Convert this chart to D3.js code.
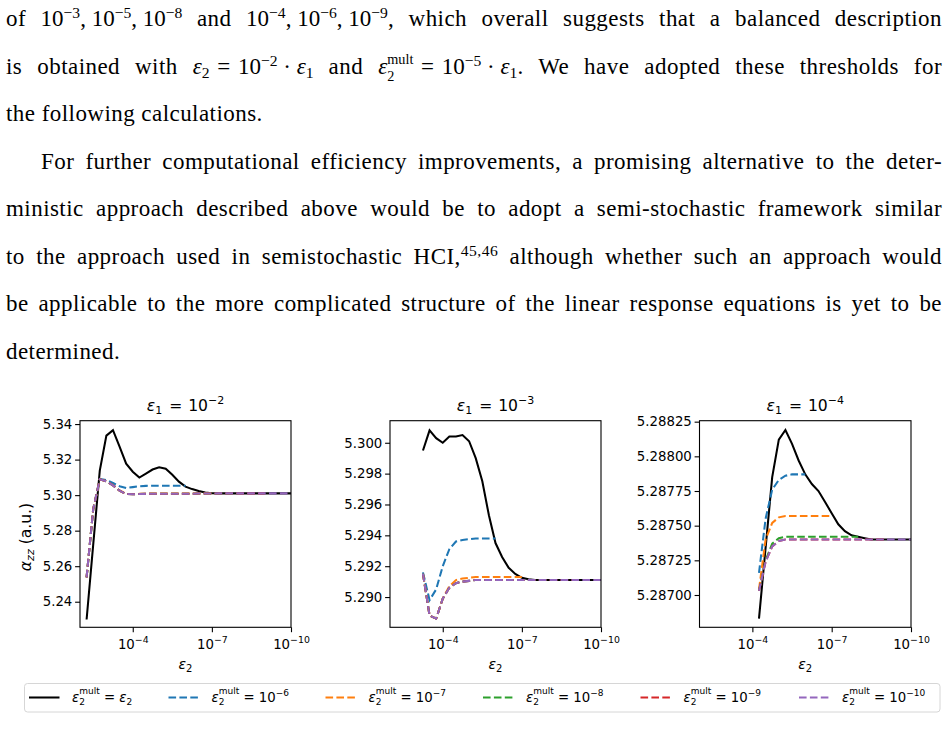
<!DOCTYPE html>
<html>
<head>
<meta charset="utf-8">
<script src="https://cdn.jsdelivr.net/npm/d3@7"></script>
<style>
  body { margin: 0; background: #fff; width: 948px; height: 746px; overflow: hidden; position: relative; }
  .ln {
    position: absolute; left: 6px; width: 936px;
    font-family: "Liberation Serif", serif; font-size: 23px; letter-spacing: 0.45px; line-height: 40px;
    white-space: nowrap; text-align: justify; text-align-last: justify; color: #000;
  }
  .ln.last { text-align: left; text-align-last: left; }
  .m { display: inline-block; letter-spacing: 0; }
  .sp { font-size: 0.68em; position: relative; top: -0.5em; }
  .sb { font-size: 0.68em; position: relative; top: 0.28em; }
  .ss { display: inline-block; font-size: 0.62em; line-height: 1.2em; vertical-align: -0.5em; text-align: left; }
  svg { position: absolute; left: 0; top: 0; }
</style>
</head>
<body>
<div class="ln" style="top:-1px">of <span class="m">10<span class="sp">−3</span>,&#8197;10<span class="sp">−5</span>,&#8197;10<span class="sp">−8</span></span> and <span class="m">10<span class="sp">−4</span>,&#8197;10<span class="sp">−6</span>,&#8197;10<span class="sp">−9</span></span>, which overall suggests that a balanced description</div>
<div class="ln" style="top:46.5px">is obtained with <span class="m"><i>ε</i><span class="sb">2</span>&#8196;=&#8196;10<span class="sp">−2</span>&#8197;·&#8197;<i>ε</i><span class="sb">1</span></span> and <span class="m"><i>ε</i><span class="ss">mult<br>2</span>&#8196;=&#8196;10<span class="sp">−5</span>&#8197;·&#8197;<i>ε</i><span class="sb">1</span></span>. We have adopted these thresholds for</div>
<div class="ln last" style="top:94px">the following calculations.</div>
<div class="ln" style="top:141.5px; left:41px; width:901px">For further computational efficiency improvements, a promising alternative to the deter-</div>
<div class="ln" style="top:189px">ministic approach described above would be to adopt a semi-stochastic framework similar</div>
<div class="ln" style="top:236.5px">to the approach used in semistochastic HCI,<span class="sp">45,46</span> although whether such an approach would</div>
<div class="ln" style="top:284px">be applicable to the more complicated structure of the linear response equations is yet to be</div>
<div class="ln last" style="top:331.5px">determined.</div>

<svg id="chart" width="948" height="746"></svg>

<script>
// eps2 grid, as log10 exponents, one list per panel
const eps2Exp1 = [-2.25, -2.5, -2.75, -3, -3.25, -3.5, -3.75, -4, -4.25, -4.5, -4.75, -5, -5.25, -5.5, -5.75, -6,
  -6.25, -6.5, -6.75, -7, -7.25, -7.5, -7.75, -8, -8.25, -8.5, -8.75, -9, -9.25, -9.5, -9.75, -10]
const eps2Exp2 = [-3.25, -3.5, -3.75, -4, -4.25, -4.5, -4.75, -5, -5.25, -5.5, -5.75, -6,
  -6.25, -6.5, -6.75, -7, -7.25, -7.5, -7.75, -8, -8.25, -8.5, -8.75, -9, -9.25, -9.5, -9.75, -10]
const eps2Exp3 = [-4.25, -4.5, -4.75, -5, -5.25, -5.5, -5.75, -6,
  -6.25, -6.5, -6.75, -7, -7.25, -7.5, -7.75, -8, -8.25, -8.5, -8.75, -9, -9.25, -9.5, -9.75, -10]

// eps1 = 1e-2
const black1 = [5.2300, 5.2720, 5.3138, 5.3335, 5.3366, 5.3273, 5.3177, 5.3132, 5.3099, 5.3121, 5.3144, 5.3157,
  5.3149, 5.3115, 5.3076, 5.3048, 5.3034, 5.3023, 5.3015, 5.3011, 5.3010, 5.3010, 5.3010, 5.3010,
  5.3010, 5.3010, 5.3010, 5.3010, 5.3010, 5.3010, 5.3010, 5.3010]
const blue1 = [5.2537, 5.2920, 5.3091, 5.3085, 5.3068, 5.3050, 5.3040, 5.3045, 5.3050, 5.3052, 5.3053, 5.3053,
  5.3053, 5.3053, 5.3053, 5.3053]
const orange1 = [5.2537, 5.2920, 5.3089, 5.3078, 5.3056, 5.3026, 5.3007, 5.3006, 5.3007, 5.3008, 5.3009, 5.3009,
  5.3009, 5.3009, 5.3009, 5.3009, 5.3009, 5.3009, 5.3010, 5.3010]
const green1 = [5.2537, 5.2920, 5.3089, 5.3078, 5.3055, 5.3025, 5.3006, 5.3005, 5.3006, 5.3007, 5.3008, 5.3008,
  5.3008, 5.3008, 5.3008, 5.3008, 5.3008, 5.3009, 5.3009, 5.3009, 5.3010, 5.3010, 5.3010, 5.3010]
const red1 = [5.2537, 5.2920, 5.3089, 5.3078, 5.3055, 5.3025, 5.3006, 5.3005, 5.3006, 5.3007, 5.3008, 5.3008,
  5.3008, 5.3008, 5.3008, 5.3008, 5.3008, 5.3009, 5.3009, 5.3009, 5.3010, 5.3010, 5.3010, 5.3010,
  5.3010, 5.3010, 5.3010, 5.3010]
const purple1 = [5.2537, 5.2920, 5.3089, 5.3078, 5.3055, 5.3025, 5.3006, 5.3005, 5.3006, 5.3007, 5.3008, 5.3008,
  5.3008, 5.3008, 5.3008, 5.3008, 5.3008, 5.3009, 5.3009, 5.3009, 5.3010, 5.3010, 5.3010, 5.3010,
  5.3010, 5.3010, 5.3010, 5.3010, 5.3010, 5.3010, 5.3010, 5.3010]

// eps1 = 1e-3
const black2 = [5.2995, 5.3008, 5.3003, 5.3000, 5.3004, 5.3004, 5.3005, 5.3001, 5.2990, 5.2975, 5.2953, 5.2935,
  5.2926, 5.2919, 5.2915, 5.29125, 5.29115, 5.2911, 5.2911, 5.2911, 5.2911, 5.2911, 5.2911, 5.2911,
  5.2911, 5.2911, 5.2911, 5.2911]
const blue2 = [5.2916, 5.2898, 5.2905, 5.2920, 5.2931, 5.2936, 5.2937, 5.29375, 5.2938, 5.2938, 5.2938, 5.2938]
const orange2 = [5.2915, 5.2888, 5.2886, 5.2899, 5.2907, 5.2911, 5.2912, 5.29125, 5.2913, 5.2913, 5.2913, 5.2913,
  5.2913, 5.2913, 5.2913, 5.2913]
const green2 = [5.2915, 5.2888, 5.2886, 5.2899, 5.2906, 5.2909, 5.2910, 5.29105, 5.2911, 5.2911, 5.2911, 5.2911,
  5.2911, 5.2911, 5.2911, 5.2911, 5.2911, 5.2911, 5.2911, 5.2911]
const red2 = [5.2915, 5.2888, 5.2886, 5.2899, 5.2906, 5.2909, 5.2910, 5.29105, 5.2911, 5.2911, 5.2911, 5.2911,
  5.2911, 5.2911, 5.2911, 5.2911, 5.2911, 5.2911, 5.2911, 5.2911, 5.2911, 5.2911, 5.2911, 5.2911]
const purple2 = [5.2915, 5.2888, 5.2886, 5.2899, 5.2906, 5.2909, 5.2910, 5.29105, 5.2911, 5.2911, 5.2911, 5.2911,
  5.2911, 5.2911, 5.2911, 5.2911, 5.2911, 5.2911, 5.2911, 5.2911, 5.2911, 5.2911, 5.2911, 5.2911,
  5.2911, 5.2911, 5.2911, 5.2911]

// eps1 = 1e-4
const black3 = [5.28683, 5.28734, 5.28785, 5.28812, 5.28819, 5.28809, 5.28797, 5.28787, 5.28780, 5.28775, 5.28767, 5.28759,
  5.28751, 5.28746, 5.28743, 5.28742, 5.28741, 5.28740, 5.28740, 5.28740, 5.28740, 5.28740, 5.28740, 5.28740]
const blue3 = [5.28716, 5.28755, 5.28776, 5.28783, 5.28786, 5.28787, 5.28787, 5.28787]
const orange3 = [5.28704, 5.28740, 5.28752, 5.28756, 5.28757, 5.28757, 5.28757, 5.28757, 5.28757, 5.28757, 5.28757, 5.28757]
const green3 = [5.28703, 5.28725, 5.28737, 5.28741, 5.28742, 5.28742, 5.28742, 5.28742, 5.28742, 5.28742, 5.28742, 5.28742,
  5.28742, 5.28742, 5.28742, 5.28742]
const red3 = [5.28703, 5.28724, 5.28735, 5.28739, 5.28740, 5.28740, 5.28740, 5.28740, 5.28740, 5.28740, 5.28740, 5.28740,
  5.28740, 5.28740, 5.28740, 5.28740, 5.28740, 5.28740, 5.28740, 5.28740]
const purple3 = [5.28703, 5.28724, 5.28735, 5.28739, 5.28740, 5.28740, 5.28740, 5.28740, 5.28740, 5.28740, 5.28740, 5.28740,
  5.28740, 5.28740, 5.28740, 5.28740, 5.28740, 5.28740, 5.28740, 5.28740, 5.28740, 5.28740, 5.28740, 5.28740]

const eps1Exps = ['−2', '−3', '−4']
const xTickValues = [1e-4, 1e-7, 1e-10]
const xTickExps = ['−4', '−7', '−10']
const yTicks1 = [5.24, 5.26, 5.28, 5.30, 5.32, 5.34]
const yTicks2 = [5.290, 5.292, 5.294, 5.296, 5.298, 5.300]
const yTicks3 = [5.28700, 5.28725, 5.28750, 5.28775, 5.28800, 5.28825]
const legendExps = [null, '−6', '−7', '−8', '−9', '−10']

const colors = ['#000000', '#1f77b4', '#ff7f0e', '#2ca02c', '#d62728', '#9467bd']
const font = '"DejaVu Sans", sans-serif'
const fs = 13.3
const fsSmall = 9.4

const panels = [
  { exps: eps2Exp1, series: [black1, blue1, orange1, green1, red1, purple1], yTicks: yTicks1, fmt: '.2f',
    yDomain: [5.2256, 5.3419], left: 80, right: 291 },
  { exps: eps2Exp2, series: [black2, blue2, orange2, green2, red2, purple2], yTicks: yTicks2, fmt: '.3f',
    yDomain: [5.28804, 5.30143], left: 390, right: 601 },
  { exps: eps2Exp3, series: [black3, blue3, orange3, green3, red3, purple3], yTicks: yTicks3, fmt: '.5f',
    yDomain: [5.286767, 5.288257], left: 699.5, right: 911 }
]

const axTop = 420.7
const axBottom = 627.3
const svg = d3.select('#chart')

panels.forEach((p, i) => {
  const x = d3.scaleLog().domain([1e-2, 1e-10]).range([p.left, p.right])
  const y = d3.scaleLinear().domain(p.yDomain).range([axBottom, axTop])
  const g = svg.append('g')

  svg.append('clipPath').attr('id', 'clip' + i)
    .append('rect')
    .attr('x', p.left).attr('y', axTop)
    .attr('width', p.right - p.left).attr('height', axBottom - axTop)

  const line = d3.line()
    .x(d => x(Math.pow(10, d[0])))
    .y(d => y(d[1]))

  p.series.forEach((vals, k) => {
    const pts = vals.map((v, j) => [p.exps[j], v])
    g.append('path')
      .attr('d', line(pts))
      .attr('fill', 'none')
      .attr('stroke', colors[k])
      .attr('stroke-width', 2.05)
      .attr('stroke-dasharray', k === 0 ? null : '7.6,3.3')
      .attr('clip-path', `url(#clip${i})`)
  })

  // frame
  g.append('rect')
    .attr('x', p.left).attr('y', axTop)
    .attr('width', p.right - p.left).attr('height', axBottom - axTop)
    .attr('fill', 'none').attr('stroke', '#000').attr('stroke-width', 1.1)

  // x axis
  const xg = g.append('g')
    .attr('transform', `translate(0,${axBottom})`)
    .call(d3.axisBottom(x).tickValues(xTickValues).tickSize(4.9).tickSizeOuter(0).tickFormat(''))
  xg.select('.domain').remove()
  xg.selectAll('.tick line').attr('stroke', '#000').attr('stroke-width', 1.1)
  xg.selectAll('.tick').each(function (d, j) {
    const t = d3.select(this).append('text')
      .attr('y', 22)
      .attr('fill', '#000')
      .attr('text-anchor', 'middle')
      .style('font-family', font)
      .style('font-size', fs + 'px')
    t.append('tspan').text('10')
    t.append('tspan').attr('dy', -6).style('font-size', fsSmall + 'px').text(xTickExps[j])
  })

  // y axis
  const yg = g.append('g')
    .attr('transform', `translate(${p.left},0)`)
    .call(d3.axisLeft(y).tickValues(p.yTicks).tickSize(4.9).tickSizeOuter(0).tickPadding(2.8).tickFormat(d3.format(p.fmt)))
  yg.select('.domain').remove()
  yg.selectAll('.tick line').attr('stroke', '#000').attr('stroke-width', 1.1)
  yg.selectAll('.tick text')
    .attr('fill', '#000')
    .style('font-family', font)
    .style('font-size', fs + 'px')

  // title (larger, mathtext-like spacing round "=")
  const cx = (p.left + p.right) / 2
  const title = g.append('text')
    .attr('x', cx).attr('y', 411)
    .attr('text-anchor', 'middle')
    .style('font-family', font).style('font-size', '15.6px')
  title.append('tspan').style('font-style', 'italic').text('ε')
  title.append('tspan').attr('dy', 3.2).style('font-size', '11px').text('1')
  title.append('tspan').attr('dy', -3.2).attr('dx', 2).text(' = ')
  title.append('tspan').attr('dx', 1).text('10')
  title.append('tspan').attr('dy', -7).style('font-size', '11px').text(eps1Exps[i])

  // x label
  const xl = g.append('text')
    .attr('x', cx).attr('y', 668.5)
    .attr('text-anchor', 'middle')
    .style('font-family', font).style('font-size', '14px')
  xl.append('tspan').style('font-style', 'italic').text('ε')
  xl.append('tspan').attr('dy', 3).style('font-size', '10px').text('2')

  if (i === 0) {
    const yl = g.append('text')
      .attr('transform', 'translate(30.5,537) rotate(-90)')
      .attr('text-anchor', 'middle')
      .style('font-family', font).style('font-size', '15.6px')
    yl.append('tspan').style('font-style', 'italic').text('α')
    yl.append('tspan').attr('dy', 3.2).style('font-size', '11px').style('font-style', 'italic').text('zz')
    yl.append('tspan').attr('dy', -3.2).text(' (a.u.)')
  }
})

// legend
const lg = svg.append('g')
lg.append('rect')
  .attr('x', 24.5).attr('y', 683.5)
  .attr('width', 915.5).attr('height', 28.5)
  .attr('rx', 3)
  .attr('fill', '#fff')
  .attr('stroke', '#d6d6d6')
  .attr('stroke-width', 1)

const handleX = [29, 168.5, 325.5, 483, 640.5, 799]
const ly = 697.5
legendExps.forEach((ex, k) => {
  const hx = handleX[k]
  lg.append('line')
    .attr('x1', hx).attr('x2', hx + 30.5)
    .attr('y1', ly).attr('y2', ly)
    .attr('stroke', colors[k])
    .attr('stroke-width', 2.05)
    .attr('stroke-dasharray', k === 0 ? null : '7.6,3.3')

  // one text element: eps, stacked sub "2" and sup "mult", then the right-hand side
  const t = lg.append('text')
    .attr('x', hx + 43).attr('y', 701.5)
    .attr('fill', '#000')
    .style('font-family', font)
    .style('font-size', fs + 'px')
  t.append('tspan').style('font-style', 'italic').text('ε')
  const sub = t.append('tspan').attr('dy', 3.2).style('font-size', '9px').text('2')
  const subW = sub.node().getComputedTextLength()
  t.append('tspan').attr('dx', -subW).attr('dy', -10.8).style('font-size', '9px').text('mult')
  if (ex === null) {
    t.append('tspan').attr('dy', 7.6).text(' = ')
    t.append('tspan').style('font-style', 'italic').text('ε')
    t.append('tspan').attr('dy', 3.2).style('font-size', '9px').text('2')
  } else {
    t.append('tspan').attr('dy', 7.6).text(' = 10')
    t.append('tspan').attr('dy', -6).style('font-size', '9px').text(ex)
  }
})
</script>
</body>
</html>
